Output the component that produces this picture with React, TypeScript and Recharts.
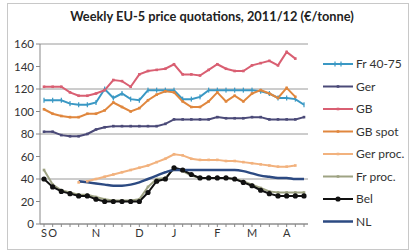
import { LineChart, Line, XAxis, YAxis, CartesianGrid } from "recharts";

// Weekly EU-5 price quotations 2011/12, €/tonne. One entry per week, Sept -> April.
const monthLabels = ["S", "O", "", "", "", "", "N", "", "", "", "", "D", "", "", "", "J", "", "", "", "", "F", "", "", "", "M", "", "", "", "A", "", ""];

const fr4075 = [110, 110, 110, 107, 106, 106, 108, 120, 112, 116, 111, 110, 119, 119, 119, 119, 111, 111, 113, 119, 119, 119, 119, 119, 119, 118, 116, 112, 112, 111, 106];
const ger = [82, 82, 79, 78, 78, 80, 84, 86, 87, 87, 87, 87, 87, 87, 89, 93, 93, 93, 93, 93, 95, 94, 94, 94, 95, 95, 93, 93, 93, 93, 95];
const gb = [122, 122, 122, 117, 114, 114, 116, 119, 128, 127, 122, 133, 136, 137, 138, 142, 133, 133, 132, 137, 142, 138, 136, 136, 141, 143, 145, 141, 153, 147, null];
const gbSpot = [102, 98, 96, 95, 95, 98, 98, 101, 108, 104, 100, 103, 110, 115, 118, 117, 109, 104, 104, 109, 117, 109, 114, 109, 116, 119, 116, 112, 121, 113, null];
const gerProc = [null, null, null, null, 37, 38, 40, 42, 44, 46, 48, 50, 52, 55, 58, 62, 61, 58, 57, 57, 57, 56, 56, 55, 54, 53, 52, 51, 51, 52, null];
const frProc = [48, 35, 30, 28, 26, 26, 24, 22, 21, 21, 21, 22, 33, 40, 41, 49, 47, 43, 41, 41, 41, 41, 40, 38, 35, 32, 29, 28, 28, 28, 28];
const bel = [40, 33, 29, 27, 25, 25, 22, 20, 20, 20, 20, 20, 28, 38, 40, 50, 48, 44, 41, 41, 41, 41, 40, 37, 34, 30, 27, 25, 25, 25, 25];
const nl = [null, null, null, null, 38, 37, 36, 35, 34, 34, 35, 37, 40, 43, 46, 48, 48, 48, 48, 48, 48, 48, 48, 47, 45, 43, 42, 41, 41, 40, 40];

const yTicks = [0, 20, 40, 60, 80, 100, 120, 140, 160];

const series = [
  { key: "fr4075", name: "Fr 40-75", color: "#3a98c4", values: fr4075, dot: "dash", width: 2 },
  { key: "ger", name: "Ger", color: "#4b4a78", values: ger, dot: "small", width: 2 },
  { key: "gb", name: "GB", color: "#d95f72", values: gb, dot: "small", width: 2 },
  { key: "gbSpot", name: "GB spot", color: "#e0873e", values: gbSpot, dot: "small", width: 2 },
  { key: "gerProc", name: "Ger proc.", color: "#f2b27e", values: gerProc, dot: "small", width: 2 },
  { key: "frProc", name: "Fr proc.", color: "#9ea383", values: frProc, dot: "small", width: 2 },
  { key: "bel", name: "Bel", color: "#111111", values: bel, dot: "circle", width: 2 },
  { key: "nl", name: "NL", color: "#2c4a82", values: nl, dot: "none", width: 2.5 },
];

const data = monthLabels.map((m, i) => {
  const row: Record<string, string | number | null> = { idx: i, month: m };
  series.forEach((s) => {
    row[s.key] = s.values[i] ?? null;
  });
  return row;
});

const font = "Lato, 'Open Sans', sans-serif";

function makeDot(kind: string, color: string) {
  if (kind === "none") return false;
  return (p: any) => {
    const { cx, cy, index } = p;
    if (cx == null || cy == null || p.value == null) return <g key={index} />;
    if (kind === "circle") return <circle key={index} cx={cx} cy={cy} r={2.6} fill={color} />;
    if (kind === "dash") return <rect key={index} x={cx - 0.6} y={cy - 2.5} width={1.2} height={5} fill={color} />;
    return <rect key={index} x={cx - 1.3} y={cy - 1.3} width={2.6} height={2.6} fill={color} />;
  };
}

function LegendMark({ kind, color, y, width }: { kind: string; color: string; y: number; width: number }) {
  return (
    <g>
      <line x1={323} x2={353} y1={y} y2={y} stroke={color} strokeWidth={width} />
      {kind === "circle" && <circle cx={338} cy={y} r={2.6} fill={color} />}
      {kind === "dash" && (
        <>
          <rect x={334.4} y={y - 2.5} width={1.2} height={5} fill={color} />
          <rect x={340.4} y={y - 2.5} width={1.2} height={5} fill={color} />
        </>
      )}
      {kind === "small" && <rect x={336.7} y={y - 1.3} width={2.6} height={2.6} fill={color} />}
    </g>
  );
}

export default function App() {
  return (
    <div style={{ position: "relative", width: 415, height: 252, background: "#fff" }}>
      <style>{`body{margin:0}`}</style>
      <LineChart width={415} height={252} data={data} margin={{ top: 44, right: 107, bottom: 6, left: 0 }}>
        <CartesianGrid horizontal vertical={false} stroke="#9a9a9a" strokeWidth={1} />
        <XAxis
          dataKey="idx"
          type="category"
          interval={0}
          tickFormatter={(v) => monthLabels[Number(v)] ?? ""}
          tick={{ fontSize: 11, fill: "#333", fontFamily: font }}
          tickLine={{ stroke: "#888" }}
          tickSize={3}
          axisLine={{ stroke: "#888" }}
          padding={{ left: 4, right: 4 }}
          height={22}
        />
        <YAxis
          domain={[0, 160]}
          ticks={yTicks}
          width={40}
          tick={{ fontSize: 11.5, fill: "#333", fontFamily: font }}
          tickLine={{ stroke: "#888" }}
          tickSize={4}
          axisLine={{ stroke: "#888" }}
        />
        {series.map((s) => (
          <Line
            key={s.key}
            dataKey={s.key}
            name={s.name}
            type={s.key === "nl" ? "monotone" : "linear"}
            stroke={s.color}
            strokeWidth={s.width}
            dot={makeDot(s.dot, s.color) as any}
            activeDot={false}
            connectNulls={false}
            isAnimationActive={false}
          />
        ))}
      </LineChart>
      <svg width={415} height={252} style={{ position: "absolute", left: 0, top: 0, pointerEvents: "none" }}>
        <rect x={7.5} y={3.5} width={401} height={246} fill="none" stroke="#c8c8c8" />
        <text x={212} y={21} textAnchor="middle" fontFamily={font} fontWeight="bold" fontSize={12.8} fill="#222">
          Weekly EU-5 price quotations, 2011/12 (€/tonne)
        </text>
        {series.map((s, i) => {
          const y = 64 + i * 22.5;
          return (
            <g key={s.key}>
              <LegendMark kind={s.dot} color={s.color} y={y} width={s.width} />
              <text x={356} y={y + 4} fontFamily={font} fontSize={12} fill="#333">
                {s.name}
              </text>
            </g>
          );
        })}
      </svg>
    </div>
  );
}
